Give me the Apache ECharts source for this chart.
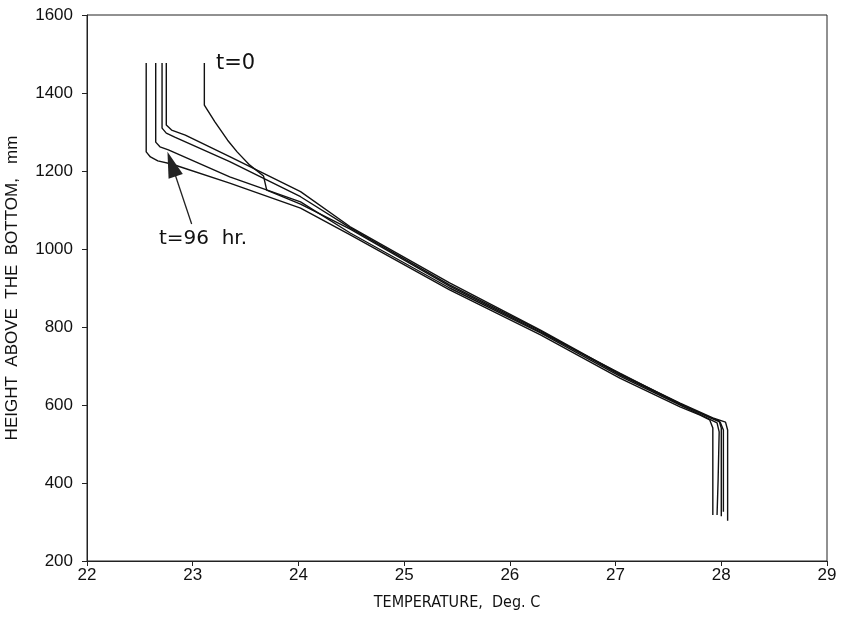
<!DOCTYPE html>
<html>
<head>
<meta charset="utf-8">
<script src="https://cdn.jsdelivr.net/npm/echarts@6/dist/echarts.min.js"></script>
<style>
  html, body { margin: 0; padding: 0; background: #fff; }
  #chart { width: 846px; height: 617px; }
</style>
</head>
<body>
<div id="chart"></div>
<script>
// Temperature profiles (deg C) against height above the bottom (mm)
const tempA = [22.56, 22.56, 22.60, 22.67, 22.80, 23.35, 24.02, 24.49, 25.43, 26.29, 27.04, 27.61, 27.80, 27.89, 27.92, 27.92];
const heightA = [1477, 1249, 1236, 1226, 1218, 1169, 1105, 1036, 895, 780, 669, 595, 574, 562, 541, 318];

const tempB = [22.65, 22.65, 22.69, 22.77, 23.35, 24.02, 24.49, 25.43, 26.29, 27.04, 27.61, 27.85, 27.96, 27.98, 27.97, 27.96];
const heightB = [1477, 1274, 1262, 1254, 1185, 1121, 1041, 900, 785, 674, 600, 569, 554, 531, 408, 318];

const tempC = [22.71, 22.71, 22.75, 22.83, 23.35, 24.02, 24.49, 25.43, 26.29, 27.04, 27.61, 27.88, 27.99, 28.02, 28.02];
const heightC = [1477, 1310, 1297, 1287, 1224, 1134, 1054, 908, 790, 677, 603, 569, 556, 536, 326];

const tempD = [22.75, 22.75, 22.80, 22.93, 23.35, 24.02, 24.49, 25.43, 26.29, 27.04, 27.61, 27.92, 28.04, 28.06, 28.06];
const heightD = [1477, 1318, 1305, 1292, 1237, 1147, 1057, 913, 792, 680, 605, 567, 556, 536, 303];

const tempE = [23.11, 23.11, 23.21, 23.33, 23.42, 23.54, 23.67, 23.70, 24.02, 24.49, 25.43, 26.29, 27.04, 27.61, 27.89, 27.98, 28.00, 28.00];
const heightE = [1477, 1369, 1326, 1279, 1249, 1215, 1187, 1151, 1115, 1051, 905, 787, 682, 603, 569, 559, 541, 315];

// Annotation anchors (data units)
const labelStart = [23.22, 1476];
const labelEnd = [22.68, 1026];
const arrowFrom = [22.99, 1064];
const arrowTo = [22.80, 1218];

const pairs = (t, h) => t.map((v, i) => [v, h[i]]);

const lineStyle = { color: '#111', width: 1.4 };
const base = {
  type: 'line',
  showSymbol: false,
  symbol: 'none',
  lineStyle: lineStyle,
  itemStyle: { color: '#111' },
  silent: true,
  animation: false
};

const sansNarrow = "'DejaVu Sans Condensed', 'Liberation Sans', 'DejaVu Sans', sans-serif";

const chart = echarts.init(document.getElementById('chart'));
chart.setOption({
  animation: false,
  backgroundColor: '#fff',
  grid: {
    left: 87, right: 19, top: 15, bottom: 56,
    outerBoundsMode: 'none', containLabel: false,
    show: true, borderColor: '#222', borderWidth: 1
  },
  xAxis: {
    type: 'value', min: 22, max: 29, interval: 1,
    name: 'TEMPERATURE,  Deg. C', nameLocation: 'middle', nameGap: 34,
    nameTextStyle: { fontFamily: sansNarrow, fontSize: 16, color: '#111' },
    axisLine: { show: true, lineStyle: { color: '#222', width: 1 } },
    axisTick: { show: true, length: 5, lineStyle: { color: '#222' } },
    axisLabel: { fontFamily: 'Liberation Sans', fontSize: 17, color: '#111', margin: 6 },
    splitLine: { show: false }
  },
  yAxis: {
    type: 'value', min: 200, max: 1600, interval: 200,
    name: 'HEIGHT  ABOVE  THE  BOTTOM,   mm', nameLocation: 'middle', nameGap: 66, nameRotate: 90,
    nameTextStyle: { fontFamily: 'Liberation Sans', fontSize: 17, color: '#111' },
    axisLine: { show: true, lineStyle: { color: '#222', width: 1 } },
    axisTick: { show: true, length: 5, lineStyle: { color: '#222' } },
    axisLabel: {
      fontFamily: 'Liberation Sans', fontSize: 17, color: '#111', margin: 14,
      formatter: v => String(v)
    },
    splitLine: { show: false }
  },
  series: [
    Object.assign({}, base, {
      name: 't=96 hr.',
      data: pairs(tempA, heightA),
      markLine: {
        silent: true,
        symbol: ['none', 'triangle'],
        symbolSize: [15, 26],
        lineStyle: { color: '#222', width: 1.3, type: 'solid' },
        itemStyle: { color: '#444' },
        label: { show: false },
        data: [[{ coord: arrowFrom }, { coord: arrowTo }]]
      },
      markPoint: {
        silent: true,
        symbol: 'circle', symbolSize: 0,
        label: {
          show: true, position: 'right', distance: 0,
          fontFamily: 'DejaVu Sans', fontSize: 20, color: '#111',
          formatter: 't=96  hr.'
        },
        data: [{ coord: labelEnd }]
      }
    }),
    Object.assign({}, base, { name: 'B', data: pairs(tempB, heightB) }),
    Object.assign({}, base, { name: 'C', data: pairs(tempC, heightC) }),
    Object.assign({}, base, { name: 'D', data: pairs(tempD, heightD) }),
    Object.assign({}, base, {
      name: 't=0',
      data: pairs(tempE, heightE),
      markPoint: {
        silent: true,
        symbol: 'circle', symbolSize: 0,
        label: {
          show: true, position: 'right', distance: 0,
          fontFamily: 'DejaVu Sans', fontSize: 21, color: '#111',
          formatter: 't=0'
        },
        data: [{ coord: labelStart }]
      }
    })
  ]
});
</script>
</body>
</html>
